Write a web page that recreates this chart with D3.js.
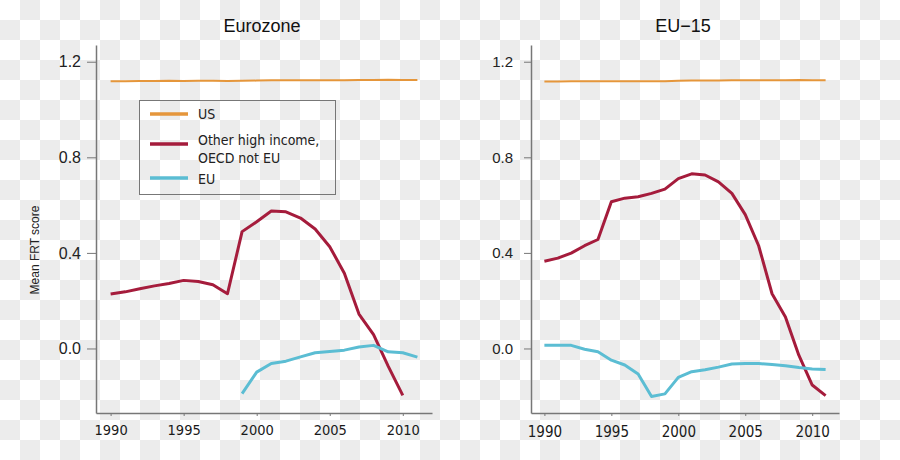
<!DOCTYPE html>
<html><head><meta charset="utf-8">
<script src="https://cdn.jsdelivr.net/npm/d3@7"></script>
<style>body{margin:0;background:#fff}svg{display:block}</style>
</head><body>
<svg id="c" width="900" height="460"></svg>
<script>
const years = d3.range(1990, 2012);
const xTicks = [1990, 1995, 2000, 2005, 2010];
const yTicks = [0.0, 0.4, 0.8, 1.2];
const seriesNames = ["US", "Other high income,\nOECD not EU", "EU"];
const colors = ["#e5963b", "#a51c3c", "#5bbdd3"];

// Eurozone panel
const ezUS = [1.118,1.118,1.119,1.119,1.120,1.119,1.120,1.120,1.119,1.120,1.121,1.122,1.122,1.122,1.123,1.123,1.123,1.124,1.124,1.125,1.124,1.124];
const ezOther = [0.228,0.237,0.250,0.262,0.272,0.285,0.280,0.267,0.229,0.489,0.530,0.575,0.572,0.546,0.500,0.426,0.315,0.144,0.058,-0.074,-0.196,null];
const ezEU = [null,null,null,null,null,null,null,null,null,-0.189,-0.099,-0.063,-0.053,-0.035,-0.018,-0.013,-0.007,0.006,0.013,-0.014,-0.018,-0.036];

// EU-15 panel
const e15US = [1.117,1.117,1.118,1.118,1.118,1.118,1.118,1.118,1.118,1.118,1.120,1.121,1.121,1.121,1.122,1.122,1.122,1.122,1.123,1.124,1.123,1.123];
const e15Other = [0.365,0.378,0.399,0.430,0.456,0.614,0.629,0.635,0.649,0.667,0.711,0.731,0.726,0.697,0.649,0.560,0.430,0.229,0.132,-0.028,-0.153,-0.197];
const e15EU = [0.013,0.013,0.013,-0.003,-0.014,-0.049,-0.069,-0.107,-0.201,-0.190,-0.121,-0.097,-0.089,-0.078,-0.065,-0.063,-0.063,-0.067,-0.072,-0.080,-0.086,-0.088];

const svg = d3.select("#c");
const defs = svg.append("defs");
const pat = defs.append("pattern").attr("id","chk").attr("width",40).attr("height",40).attr("patternUnits","userSpaceOnUse");
pat.append("rect").attr("width",40).attr("height",40).attr("fill","#ffffff");
pat.append("rect").attr("x",20).attr("y",0).attr("width",20).attr("height",20).attr("fill","#ececec");
pat.append("rect").attr("x",0).attr("y",20).attr("width",20).attr("height",20).attr("fill","#ececec");
svg.append("rect").attr("width",900).attr("height",460).attr("fill","url(#chk)");

const condensed = "'DejaVu Sans Condensed', 'DejaVu Sans', sans-serif";
const panels = [
  {title:"Eurozone", tx:262, x0:96, x1:432, data:[ezUS, ezOther, ezEU],
   xFont:condensed, xSize:14.5, xPad:9,
   yFont:"'Liberation Sans', Arial, sans-serif", ySize:16, yPad:6, yTick:9},
  {title:"EU\u221215", tx:683, x0:531, x1:839, data:[e15US, e15Other, e15EU],
   xFont:"'DejaVu Sans', sans-serif", xSize:15, xPad:10,
   yFont:"'Liberation Sans', Arial, sans-serif", ySize:15, yPad:11, yTick:7}
];

const y = d3.scaleLinear().domain([-0.27, 1.27]).range([413, 45]);
const widths = [2, 3, 3];

panels.forEach(p => {
  const x = d3.scaleLinear().domain([1989, 2012]).range([p.x0, p.x1]);
  const g = svg.append("g");

  const xa = g.append("g").attr("transform","translate(0,413)")
    .call(d3.axisBottom(x).tickValues(xTicks).tickFormat(d3.format("d")).tickSize(3).tickPadding(p.xPad).tickSizeOuter(0));
  xa.select(".domain").attr("stroke","#777").attr("stroke-width",1.5);
  xa.selectAll(".tick line").attr("stroke","#777");
  xa.selectAll("text").attr("font-family",p.xFont).attr("font-stretch","condensed").attr("font-size",p.xSize).attr("fill","#1a1a1a");

  const ya = g.append("g").attr("transform",`translate(${p.x0},0)`)
    .call(d3.axisLeft(y).tickValues(yTicks).tickFormat(d3.format(".1f")).tickSize(p.yTick).tickPadding(p.yPad).tickSizeOuter(0));
  ya.select(".domain").attr("stroke","#777").attr("stroke-width",1.5);
  ya.selectAll(".tick line").attr("stroke","#777");
  ya.selectAll("text").attr("font-family",p.yFont).attr("font-size",p.ySize).attr("fill","#222");

  g.append("text").attr("x",p.tx).attr("y",32).attr("text-anchor","middle")
    .attr("font-family","'Liberation Sans', Arial, sans-serif").attr("font-size",18).attr("fill","#111").text(p.title);

  const line = d3.line().defined(d => d[1] !== null).x(d => x(d[0])).y(d => y(d[1]));
  [1, 2, 0].forEach(i => {
    g.append("path").datum(years.map((yr, k) => [yr, p.data[i][k]]))
      .attr("d", line).attr("fill","none").attr("stroke",colors[i])
      .attr("stroke-width",widths[i]).attr("stroke-linejoin","round");
  });
});

// y label
svg.append("text").attr("transform","translate(39,250) rotate(-90)").attr("text-anchor","middle")
  .attr("font-family","'Liberation Sans', Arial, sans-serif").attr("font-size",12).attr("fill","#222")
  .text("Mean FRT score");

// legend
const lg = svg.append("g");
lg.append("rect").attr("x",139.5).attr("y",100.5).attr("width",196).attr("height",94)
  .attr("fill","none").attr("stroke","#777").attr("stroke-width",1);
const legY = [114, 144, 178];
const legText = [[118.5],[145,163],[183.5]];
seriesNames.forEach((n, i) => {
  lg.append("line").attr("x1",150).attr("x2",188).attr("y1",legY[i]).attr("y2",legY[i])
    .attr("stroke",colors[i]).attr("stroke-width",3.5);
  n.split("\n").forEach((t, j) => {
    lg.append("text").attr("x",198).attr("y",legText[i][j])
      .attr("font-family",condensed).attr("font-stretch","condensed").attr("font-size",14).attr("fill","#222").text(t);
  });
});
</script>
</body></html>
